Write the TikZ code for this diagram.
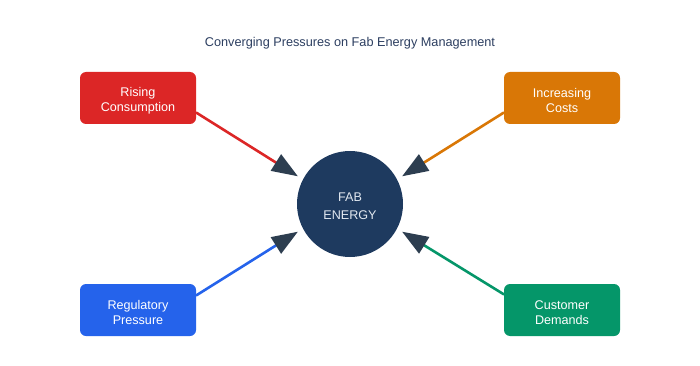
\documentclass[tikz,border=0pt]{standalone}
\usepackage{fontspec}
\setmainfont{Liberation Sans}
\usetikzlibrary{arrows.meta}
\definecolor{cred}{HTML}{DC2626}
\definecolor{corange}{HTML}{D97706}
\definecolor{cblue}{HTML}{2563EB}
\definecolor{cgreen}{HTML}{059669}
\definecolor{cnavy}{HTML}{1E3A5F}
\definecolor{ctip}{HTML}{2D3E50}
\definecolor{ctitle}{HTML}{2C3E60}
\definecolor{ccircletext}{HTML}{E2E8F0}
\newcommand{\topstrut}[1]{\rule{0pt}{#1}}
\tikzset{
  pbox/.style={draw=none, fill=#1, rounded corners=6pt, minimum width=116pt, minimum height=52pt,
    inner sep=0pt, outer sep=0pt, align=center, text=white, font=\fontsize{12.6}{15}\selectfont},
  hub/.style={circle, fill=cnavy, minimum size=106pt, inner sep=0pt, outer sep=6pt, align=center,
    text=ccircletext, font=\fontsize{12.6}{17.5}\selectfont},
  pconn/.style={draw=#1, line width=2.6pt, -{Triangle[length=26pt,width=19pt,color=ctip]}},
  titletext/.style={text=ctitle, font=\fontsize{12.7}{15}\selectfont}
}
\begin{document}
\begin{tikzpicture}[x=1pt,y=-1pt]
\useasboundingbox (0,0) rectangle (700,366);
\node[titletext] (title) at (350,43) {Converging Pressures on Fab Energy Management};
\node[hub] (fab) at (350,204) {\topstrut{13pt}FAB\\ENERGY};
\node[pbox=cred] (rc) at (138,98) {\topstrut{14pt}Rising\\Consumption};
\node[pbox=corange] (ic) at (562,98) {\topstrut{14pt}Increasing\\Costs};
\node[pbox=cblue] (rp) at (138,310) {\topstrut{14pt}Regulatory\\Pressure};
\node[pbox=cgreen] (cd) at (562,310) {\topstrut{14pt}Customer\\Demands};
\draw[pconn=cred] (rc.-14.5) -- (fab.152);
\draw[pconn=corange] (ic.194.5) -- (fab.28);
\draw[pconn=cblue] (rp.14.5) -- (fab.208);
\draw[pconn=cgreen] (cd.165.5) -- (fab.332);
\end{tikzpicture}
\end{document}
